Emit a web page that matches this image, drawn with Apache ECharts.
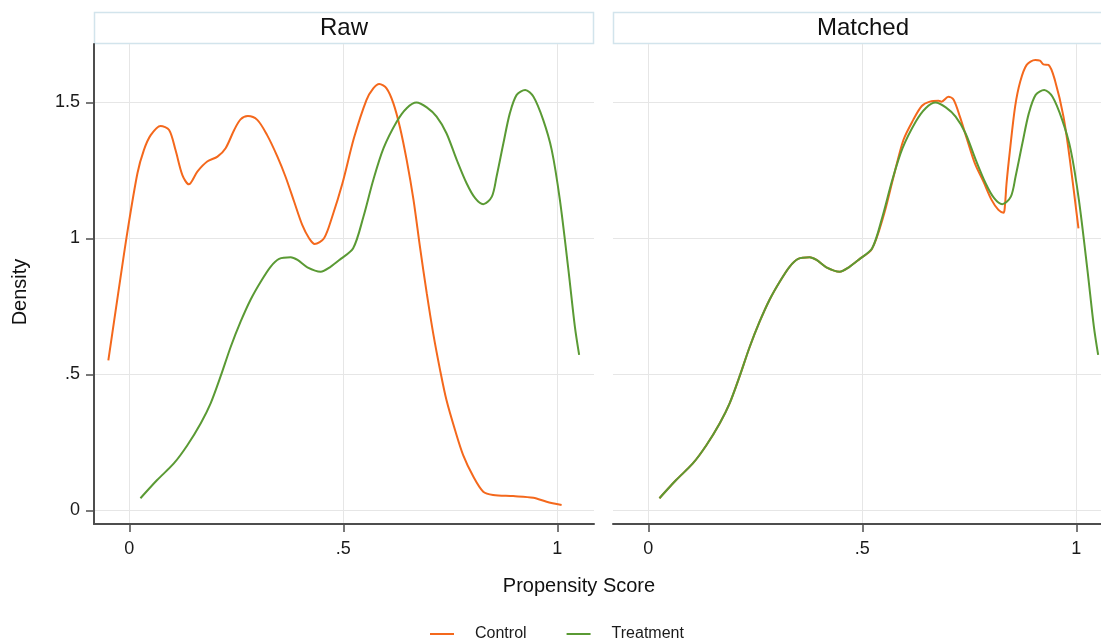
<!DOCTYPE html>
<html>
<head>
<meta charset="utf-8">
<script src="https://cdn.jsdelivr.net/npm/echarts@6/dist/echarts.min.js"></script>
<style>
  html, body { margin: 0; padding: 0; background: #fff; }
  #chartmain { width: 1101px; height: 640px; }
</style>
</head>
<body>
<div id="chartmain"></div>
<script>
// 面板标题
const panels = ['Raw', 'Matched'];
const seriesNames = ['Control', 'Treatment'];

// 刻度
const xTicks = [0, 0.5, 1];
const yTicks = [0, 0.5, 1, 1.5];

// 核密度曲线 [倾向得分, 密度]
const rawControl = [
    [-0.049, 0.552], [-0.026, 0.798], [-0.005, 1.019], [0.019, 1.24], [0.034, 1.325],
    [0.05, 1.38], [0.073, 1.414], [0.093, 1.399], [0.108, 1.325], [0.124, 1.233],
    [0.139, 1.199], [0.159, 1.246], [0.182, 1.283], [0.206, 1.301], [0.225, 1.332],
    [0.245, 1.399], [0.26, 1.438], [0.277, 1.45], [0.299, 1.436], [0.322, 1.38],
    [0.346, 1.301], [0.365, 1.227], [0.385, 1.136], [0.404, 1.05], [0.42, 1.001],
    [0.433, 0.98], [0.455, 1.001], [0.474, 1.08], [0.498, 1.203], [0.525, 1.37],
    [0.554, 1.509], [0.57, 1.552], [0.584, 1.568], [0.601, 1.552], [0.617, 1.497],
    [0.632, 1.411], [0.648, 1.289], [0.664, 1.142], [0.679, 0.97], [0.695, 0.798],
    [0.71, 0.651], [0.726, 0.517], [0.741, 0.406], [0.761, 0.296], [0.78, 0.204],
    [0.804, 0.124], [0.827, 0.069], [0.85, 0.057], [0.897, 0.053], [0.944, 0.047],
    [0.975, 0.032], [1.01, 0.02]
];

const treatment = [
    [0.026, 0.045], [0.065, 0.112], [0.104, 0.173], [0.136, 0.241], [0.167, 0.321],
    [0.19, 0.394], [0.213, 0.492], [0.237, 0.602], [0.26, 0.694], [0.283, 0.774],
    [0.307, 0.841], [0.33, 0.896], [0.35, 0.925], [0.377, 0.931], [0.393, 0.921],
    [0.416, 0.894], [0.447, 0.878], [0.47, 0.896], [0.494, 0.925], [0.523, 0.964],
    [0.547, 1.08], [0.57, 1.215], [0.594, 1.332], [0.625, 1.43], [0.648, 1.479],
    [0.671, 1.5], [0.695, 1.482], [0.718, 1.448], [0.741, 1.387], [0.765, 1.289],
    [0.788, 1.203], [0.808, 1.148], [0.827, 1.126], [0.847, 1.154], [0.858, 1.227],
    [0.874, 1.35], [0.889, 1.46], [0.905, 1.528], [0.925, 1.546], [0.944, 1.522],
    [0.967, 1.436], [0.987, 1.325], [1.006, 1.142], [1.026, 0.884], [1.041, 0.676],
    [1.051, 0.572]
];

const matchedControl = [
    [0.026, 0.045], [0.065, 0.112], [0.104, 0.173], [0.136, 0.241], [0.167, 0.321],
    [0.19, 0.394], [0.213, 0.492], [0.237, 0.602], [0.26, 0.694], [0.283, 0.774],
    [0.307, 0.841], [0.33, 0.896], [0.35, 0.925], [0.377, 0.931], [0.393, 0.921],
    [0.416, 0.894], [0.447, 0.878], [0.47, 0.896], [0.494, 0.925], [0.522, 0.96],
    [0.549, 1.08], [0.573, 1.227], [0.596, 1.362], [0.619, 1.436], [0.639, 1.487],
    [0.658, 1.503], [0.678, 1.506], [0.685, 1.503], [0.701, 1.521], [0.713, 1.511],
    [0.728, 1.448], [0.744, 1.368], [0.763, 1.276], [0.783, 1.209], [0.802, 1.142],
    [0.818, 1.105], [0.83, 1.095], [0.833, 1.117], [0.837, 1.203], [0.845, 1.325],
    [0.857, 1.485], [0.869, 1.577], [0.884, 1.638], [0.904, 1.656], [0.915, 1.654],
    [0.923, 1.64], [0.935, 1.638], [0.95, 1.582], [0.97, 1.448], [0.985, 1.289],
    [1.005, 1.037]
];

{
    const DOM = document.getElementById('chartmain');
    const chart = echarts.init(DOM);

    const FONT = '"Liberation Sans", Arial, Helvetica, sans-serif';
    const ORANGE = '#f4681c';
    const GREEN = '#5a9a34';
    const AXIS = '#4d4d4d';
    const GRID = '#e6e6e6';

    // 去掉前导零: 0.5 -> .5
    const fmt = v => (v === 0 ? '0' : String(v).replace(/^0\./, '.'));

    // 两个面板共用的位置（右侧面板超出画布，被裁掉一截）
    const gridLeft = [94, 613];
    const gridW = 500;
    const gridTop = 44;
    const gridH = 480;

    const xMin = -0.0825, xMax = 1.0857;
    const yMin = -0.0496, yMax = 1.715;

    const grids = gridLeft.map(l => ({
        left: l, top: gridTop, width: gridW, height: gridH,
        outerBoundsMode: 'none', containLabel: false
    }));

    const xAxes = gridLeft.map((l, i) => ({
        type: 'value',
        gridIndex: i,
        min: xMin,
        max: xMax,
        axisLine: { show: true, onZero: false, lineStyle: { color: AXIS, width: 2 } },
        axisTick: { show: true, length: 8, customValues: xTicks, lineStyle: { color: AXIS, width: 1.5 } },
        axisLabel: { customValues: xTicks, formatter: fmt, margin: 16, color: '#1a1a1a', fontSize: 18, fontFamily: FONT },
        splitLine: { show: true, lineStyle: { color: GRID, width: 1 } }
    }));

    const yAxes = gridLeft.map((l, i) => ({
        type: 'value',
        gridIndex: i,
        min: yMin,
        max: yMax,
        axisLine: { show: i === 0, onZero: false, lineStyle: { color: AXIS, width: 2 } },
        axisTick: { show: i === 0, length: 8, customValues: yTicks, lineStyle: { color: AXIS, width: 1.5 } },
        axisLabel: { show: i === 0, customValues: yTicks, formatter: fmt, margin: 14, color: '#1a1a1a', fontSize: 18, fontFamily: FONT },
        splitLine: { show: true, lineStyle: { color: GRID, width: 1 } }
    }));

    const lineSeries = (name, data, idx, color) => ({
        name: name,
        type: 'line',
        xAxisIndex: idx,
        yAxisIndex: idx,
        data: data,
        smooth: 0.3,
        symbol: 'none',
        color: color,
        lineStyle: { color: color, width: 2 },
        animation: false
    });

    // 面板标题条
    const strips = [];
    gridLeft.forEach((l, i) => {
        strips.push({
            type: 'rect',
            shape: { x: l + 0.5, y: 12.5, width: gridW - 1, height: 31 },
            style: { fill: '#fff', stroke: '#d2e4ec', lineWidth: 1.5 }
        });
        strips.push({
            type: 'text',
            x: l + gridW / 2,
            y: 28,
            style: { text: panels[i], font: '24px ' + FONT, fill: '#111', align: 'center', verticalAlign: 'middle' }
        });
    });

    const option = {
        backgroundColor: '#fff',
        animation: false,
        grid: grids,
        xAxis: xAxes,
        yAxis: yAxes,
        legend: {
            data: seriesNames,
            left: 425,
            top: 621,
            icon: 'rect',
            itemWidth: 24,
            itemHeight: 2,
            itemGap: 40,
            textStyle: { color: '#1a1a1a', fontSize: 16, fontFamily: FONT, padding: [0, 0, 0, 16] }
        },
        graphic: strips.concat([
            {
                type: 'text',
                x: 20,
                y: 292,
                rotation: Math.PI / 2,
                style: { text: 'Density', font: '20px ' + FONT, fill: '#111', align: 'center', verticalAlign: 'middle' }
            },
            {
                type: 'text',
                x: 579,
                y: 586,
                style: { text: 'Propensity Score', font: '20px ' + FONT, fill: '#111', align: 'center', verticalAlign: 'middle' }
            }
        ]),
        series: [
            lineSeries(seriesNames[0], rawControl, 0, ORANGE),
            lineSeries(seriesNames[1], treatment, 0, GREEN),
            lineSeries(seriesNames[0], matchedControl, 1, ORANGE),
            lineSeries(seriesNames[1], treatment, 1, GREEN)
        ]
    };

    chart.setOption(option);
    window.addEventListener('resize', function () {
        chart.resize();
    });
}
</script>
</body>
</html>
